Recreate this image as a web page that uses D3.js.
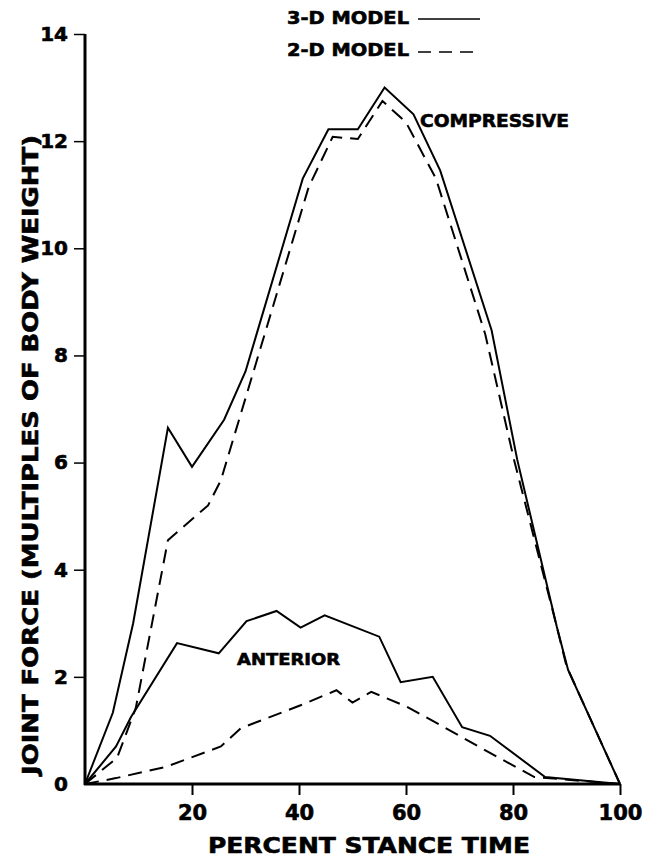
<!DOCTYPE html>
<html>
<head>
<meta charset="utf-8">
<script src="https://cdn.jsdelivr.net/npm/d3@7"></script>
<style>
  body { margin: 0; background: #fff; }
  svg { display: block; }
  text { stroke: #000; stroke-width: 0.6px; }
</style>
</head>
<body>
<div id="chart"></div>
<script>
// x ticks / y ticks
const xTicks = [20, 40, 60, 80, 100];
const yTicks = [0, 2, 4, 6, 8, 10, 12, 14];

// compressive force, 3-D model (solid)
const comp3dX = [0, 5.2, 9, 15.5, 20, 26, 30, 40.7, 45.5, 51, 56, 61.4, 66.4, 76, 80.8, 88.2, 90.3, 100];
const comp3dY = [0, 1.33, 3.0, 6.65, 5.92, 6.8, 7.7, 11.3, 12.22, 12.22, 13.0, 12.5, 11.45, 8.47, 6.05, 2.93, 2.13, 0];

// compressive force, 2-D model (dashed)
const comp2dX = [0, 6, 9.5, 15.5, 16.4, 23, 25.4, 30.6, 41.8, 46.3, 51, 55.6, 60, 65.6, 74.8, 80.2, 88.2, 90, 100];
const comp2dY = [0, 0.49, 1.42, 4.55, 4.63, 5.2, 5.67, 7.4, 11.14, 12.08, 12.04, 12.75, 12.35, 11.3, 8.4, 6.05, 2.93, 2.2, 0];

// anterior force, 3-D model (solid)
const ant3dX = [0, 5.8, 8.6, 17.2, 25, 30.2, 35.8, 40.3, 44.8, 55, 59, 65, 70.5, 75.7, 86, 100];
const ant3dY = [0, 0.7, 1.25, 2.63, 2.44, 3.04, 3.23, 2.92, 3.15, 2.75, 1.9, 2.0, 1.06, 0.9, 0.13, 0];

// anterior force, 2-D model (dashed)
const ant2dX = [0, 5.8, 15.1, 25.4, 29.1, 40.3, 47, 50, 53.5, 60, 66.4, 75.7, 84, 100];
const ant2dY = [0, 0.11, 0.32, 0.7, 1.04, 1.47, 1.75, 1.52, 1.72, 1.45, 1.1, 0.58, 0.13, 0];

const width = 658;
const height = 860;
const font = "'DejaVu Sans', sans-serif";

const svg = d3.select('#chart').append('svg')
  .attr('width', width)
  .attr('height', height)
  .attr('viewBox', [0, 0, width, height]);

const x = d3.scaleLinear().domain([0, 100]).range([85, 620]);
const y = d3.scaleLinear().domain([0, 14]).range([784, 34]);

// axes
const xAxis = svg.append('g')
  .attr('transform', `translate(0,${y(0)})`)
  .call(d3.axisBottom(x).tickValues(xTicks).tickSize(11).tickSizeOuter(0).tickPadding(10));
xAxis.select('.domain').attr('stroke-width', 3).attr('d', `M${x(0) - 1},0H${x(100)}`);
xAxis.selectAll('.tick line').attr('stroke-width', 2);
xAxis.selectAll('.tick text')
  .attr('font-family', font).attr('font-weight', 'bold').attr('font-size', 21).attr('fill', '#000');

const yAxis = svg.append('g')
  .attr('transform', `translate(${x(0)},0)`)
  .call(d3.axisLeft(y).tickValues(yTicks).tickSize(11).tickSizeOuter(0).tickPadding(6));
yAxis.select('.domain').attr('stroke-width', 3).attr('d', `M0,${y(14)}V${y(0) + 1}`);
yAxis.selectAll('.tick line').attr('stroke-width', 1.5).attr('x2', d => d === 0 ? 0 : -11);
yAxis.selectAll('.tick text')
  .attr('font-family', font).attr('font-weight', 'bold').attr('font-size', 20).attr('fill', '#000');

// lines
const line = d3.line().x(d => x(d[0])).y(d => y(d[1]));
const series = [
  { xs: comp3dX, ys: comp3dY, dash: null },
  { xs: comp2dX, ys: comp2dY, dash: '14,8' },
  { xs: ant3dX, ys: ant3dY, dash: null },
  { xs: ant2dX, ys: ant2dY, dash: '14,8' }
];
svg.append('g')
  .selectAll('path')
  .data(series)
  .join('path')
    .attr('fill', 'none')
    .attr('stroke', '#000')
    .attr('stroke-width', 2)
    .attr('stroke-linejoin', 'miter')
    .attr('stroke-dasharray', d => d.dash)
    .attr('d', d => line(d.xs.map((v, i) => [v, d.ys[i]])));

// labels
const label = (txt, px, py, size, len, anchor) => svg.append('text')
  .attr('x', px).attr('y', py)
  .attr('font-family', font).attr('font-weight', 'bold').attr('font-size', size)
  .attr('text-anchor', anchor || 'start')
  .attr('textLength', len).attr('lengthAdjust', 'spacingAndGlyphs')
  .text(txt);

label('COMPRESSIVE', 420, 127, 18, 149);
label('ANTERIOR', 237, 665, 16, 103);

// legend
label('3-D MODEL', 287, 24, 17, 122);
label('2-D MODEL', 287, 56, 17, 122);
svg.append('line').attr('x1', 418).attr('x2', 480).attr('y1', 19).attr('y2', 19)
  .attr('stroke', '#000').attr('stroke-width', 1.5);
svg.append('line').attr('x1', 418).attr('x2', 480).attr('y1', 52).attr('y2', 52)
  .attr('stroke', '#000').attr('stroke-width', 1.5).attr('stroke-dasharray', '13,8');

// axis titles
label('PERCENT STANCE TIME', 208, 853, 22, 322);
svg.append('text')
  .attr('transform', 'translate(38,455) rotate(-90)')
  .attr('font-family', font).attr('font-weight', 'bold').attr('font-size', 21)
  .attr('text-anchor', 'middle')
  .attr('textLength', 640).attr('lengthAdjust', 'spacingAndGlyphs')
  .text('JOINT FORCE (MULTIPLES OF BODY WEIGHT)');
</script>
</body>
</html>
